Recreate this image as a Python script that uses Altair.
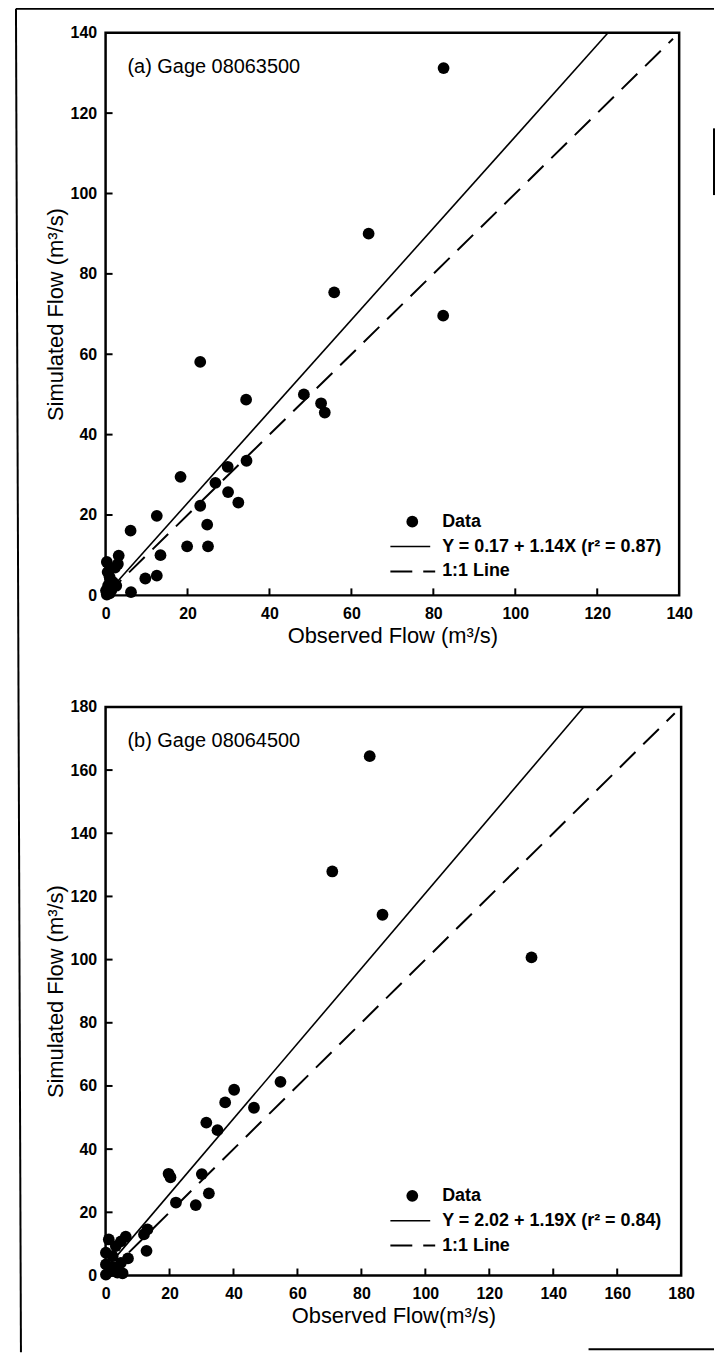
import altair as alt
import pandas as pd

# ---------------- data ----------------
# Panel (a) Gage 08063500
A_OBS = [82.5, 64.2, 55.8, 82.4, 23.1, 34.3, 48.4, 52.6, 53.5, 34.4, 29.8, 26.8, 29.9,
         32.4, 18.3, 23.1, 24.8, 25.0, 19.9, 12.5, 6.1, 13.4, 12.5, 9.7, 6.2, 3.2, 3.0,
         0.3, 2.3, 0.5, 1.0, 1.8, 0.6, 0.1, 1.4, 2.6, 0.3, 1.0]
A_SIM = [131.2, 90.0, 75.4, 69.6, 58.1, 48.7, 50.0, 47.8, 45.5, 33.5, 32.0, 28.0, 25.7,
         23.1, 29.5, 22.3, 17.6, 12.2, 12.2, 19.8, 16.1, 10.0, 4.9, 4.2, 0.8, 9.9, 7.8,
         8.3, 6.9, 5.8, 4.5, 3.3, 2.4, 1.2, 1.3, 2.4, 0.2, 0.5]

# Panel (b) Gage 08064500
B_OBS = [82.6, 70.9, 86.6, 133.2, 54.7, 40.2, 37.4, 46.4, 31.5, 35.0, 19.7, 20.3, 30.1,
         32.3, 22.0, 28.2, 13.1, 12.0, 12.8, 6.3, 1.0, 4.8, 3.2, 0.1, 2.2, 7.0, 4.8, 0.1,
         1.7, 3.7, 5.3, 0.1, 2.5]
B_SIM = [164.4, 127.9, 114.2, 100.7, 61.3, 58.8, 54.8, 53.1, 48.4, 46.0, 32.2, 31.1, 32.1,
         26.0, 23.1, 22.3, 14.6, 13.0, 7.8, 12.3, 11.4, 10.8, 9.3, 7.2, 6.1, 5.4, 4.0, 3.5,
         1.4, 0.9, 0.7, 0.3, 2.6]

A_TICKS = [0, 20, 40, 60, 80, 100, 120, 140]
B_TICKS = [0, 20, 40, 60, 80, 100, 120, 140, 160, 180]

# regression lines: intercept, slope, x extent of drawn line
A_FIT = (0.17, 1.14)
B_FIT = (2.02, 1.19)
A_FIT_X = [0, 122.7]
B_FIT_X = [0, 149.6]
A_ONE_X = [0, 138.5]
B_ONE_X = [0, 178.0]

A_LABEL = "(a) Gage 08063500"
B_LABEL = "(b) Gage 08064500"
A_LEGEND = ["Data", "Y = 0.17 + 1.14X (r\u00b2 = 0.87)", "1:1 Line"]
B_LEGEND = ["Data", "Y = 2.02 + 1.19X (r\u00b2 = 0.84)", "1:1 Line"]
Y_TITLE = "Simulated Flow (m\u00b3/s)"
A_X_TITLE = "Observed Flow (m\u00b3/s)"
B_X_TITLE = "Observed Flow(m\u00b3/s)"

FONT = "Liberation Sans"
ONE = pd.DataFrame({"k": [0]})


def panel(obs, sim, ticks, fit, fit_x, one_x, label, legend, xtitle, w, h, frame=False):
    dmax = ticks[-1]
    xs = alt.Scale(domain=[0, dmax], nice=False, zero=True)
    ys = alt.Scale(domain=[0, dmax], nice=False, zero=True)
    common = dict(values=ticks, grid=False, domain=False, ticks=False,
                  labelFont=FONT, labelFontSize=16, labelFontWeight="bold",
                  labelColor="black", titleFont=FONT, titleFontSize=22,
                  titleFontWeight="normal", titleColor="black", labelFlush=False,
                  labelOverlap=False)
    xaxis = alt.Axis(title=xtitle, labelPadding=10, titlePadding=4, **common)
    yaxis = alt.Axis(title=Y_TITLE, labelPadding=9, titlePadding=3, **common)

    pts = pd.DataFrame({"obs": obs, "sim": sim})
    a, b = fit
    fit_df = pd.DataFrame({"obs": fit_x, "sim": [a + b * x for x in fit_x]})
    one_df = pd.DataFrame({"obs": one_x, "sim": one_x})
    tick_df = pd.DataFrame({"obs": ticks[1:-1], "sim": ticks[1:-1]})

    fit_line = alt.Chart(fit_df).mark_line(color="black", strokeWidth=1.6).encode(
        x=alt.X("obs:Q", scale=xs, axis=xaxis),
        y=alt.Y("sim:Q", scale=ys, axis=yaxis),
    )
    one_line = alt.Chart(one_df).mark_line(
        color="black", strokeWidth=2, strokeDash=[22, 11]
    ).encode(x=alt.X("obs:Q", scale=xs), y=alt.Y("sim:Q", scale=ys))
    points = alt.Chart(pts).mark_circle(size=140, color="black", opacity=1).encode(
        x=alt.X("obs:Q", scale=xs), y=alt.Y("sim:Q", scale=ys)
    )
    xt = alt.Chart(tick_df).mark_rule(color="black", strokeWidth=2).encode(
        x=alt.X("obs:Q", scale=xs), y=alt.value(h), y2=alt.value(h - 7)
    )
    yt = alt.Chart(tick_df).mark_rule(color="black", strokeWidth=2).encode(
        y=alt.Y("sim:Q", scale=ys), x=alt.value(0), x2=alt.value(7)
    )
    lab = alt.Chart(ONE).mark_text(
        font=FONT, fontSize=20, align="left", baseline="middle", color="black"
    ).encode(x=alt.value(22), y=alt.value(34), text=alt.value(label))

    # hand-drawn legend (lower right)
    lx_sym, lx_txt, l_y0, l_dy = 308, 338, 491, 25
    leg = [
        alt.Chart(ONE).mark_circle(size=140, color="black", opacity=1).encode(
            x=alt.value(lx_sym), y=alt.value(l_y0)),
        alt.Chart(ONE).mark_rule(color="black", strokeWidth=1.6).encode(
            x=alt.value(lx_sym - 22), x2=alt.value(lx_sym + 18),
            y=alt.value(l_y0 + l_dy)),
        alt.Chart(ONE).mark_rule(color="black", strokeWidth=2, strokeDash=[22, 11]).encode(
            x=alt.value(lx_sym - 22), x2=alt.value(lx_sym + 23),
            y=alt.value(l_y0 + 2 * l_dy)),
    ]
    for i, t in enumerate(legend):
        leg.append(alt.Chart(ONE).mark_text(
            font=FONT, fontSize=18, fontWeight="bold", align="left",
            baseline="middle", color="black"
        ).encode(x=alt.value(lx_txt), y=alt.value(l_y0 + i * l_dy), text=alt.value(t)))

    layers = [fit_line, one_line, points, xt, yt, lab] + leg

    if frame:
        fr = dict(color="black", strokeWidth=2)
        layers += [
            alt.Chart(ONE).mark_rule(**fr).encode(
                x=alt.value(-90), x2=alt.value(-85), y=alt.value(-24), y2=alt.value(1325)),
            alt.Chart(ONE).mark_rule(**fr).encode(
                x=alt.value(-90), x2=alt.value(611), y=alt.value(-24)),
            alt.Chart(ONE).mark_rule(**fr).encode(
                x=alt.value(611), y=alt.value(96), y2=alt.value(163)),
            alt.Chart(ONE).mark_rule(**fr).encode(
                x=alt.value(485), x2=alt.value(611), y=alt.value(1322)),
        ]

    return alt.layer(*layers).properties(width=w, height=h)


pa = panel(A_OBS, A_SIM, A_TICKS, A_FIT, A_FIT_X, A_ONE_X, A_LABEL, A_LEGEND,
           A_X_TITLE, 576, 565, frame=True)
pb = panel(B_OBS, B_SIM, B_TICKS, B_FIT, B_FIT_X, B_ONE_X, B_LABEL, B_LEGEND,
           B_X_TITLE, 578, 571)

chart = alt.vconcat(pa, pb, spacing=112, bounds="flush").properties(
    padding={"left": 5, "top": -5, "right": 0, "bottom": 0},
    background="white",
).configure_view(stroke="black", strokeWidth=2.5)

chart.save("out.html", embed_options={"renderer": "svg", "actions": False})
